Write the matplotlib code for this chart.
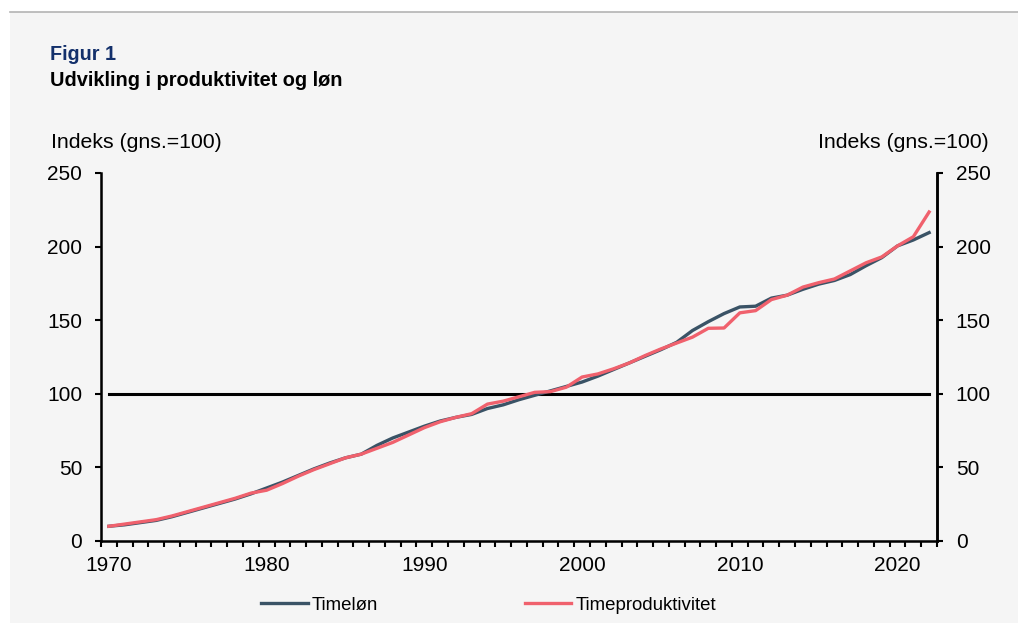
import numpy as np
import matplotlib
matplotlib.use("Agg")
import matplotlib.pyplot as plt
from matplotlib.patches import Rectangle
from matplotlib.lines import Line2D

plt.rcParams['font.family'] = ['Liberation Sans', 'DejaVu Sans']

years = list(range(1970, 2023))
timelon = [10, 11, 12.5, 14, 16.5, 19.5, 22.5, 25.5, 28.5, 32,
           36, 40, 44.5, 49, 53, 56.5, 59, 65, 70, 74,
           78, 81.5, 84, 86, 90, 92.5, 96, 99, 102, 105,
           108, 112, 116.5, 121, 125.5, 130, 135, 143, 149, 154.5,
           159, 159.5, 165, 167, 171, 174.5, 177, 181, 187, 192.5,
           200.5, 204.5, 209.5]
timeprod = [10, 11.5, 13, 14.5, 17, 20, 23, 26, 29, 32.5,
            34.5, 39, 44, 48.5, 52.5, 56.5, 59, 63, 67, 72,
            77, 81, 84, 86.5, 93, 95, 98, 101, 101.5, 104.5,
            111.4, 113.5, 117, 121, 126, 130.5, 134.5, 138.5, 144.5, 144.7,
            155, 156.5, 164, 167, 172.5, 175.5, 178, 183.5, 189, 193,
            200.5, 206.7, 223.5]
niveau = 100
yticks = [0, 50, 100, 150, 200, 250]

bg = '#f5f5f5'
col_lon = '#3a5366'
col_prod = '#f0616d'

fig = plt.figure(figsize=(10.18, 6.23), dpi=100)
fig.patch.set_facecolor('white')
fig.patches.append(Rectangle((10 / 1018, 0), 1 - 10 / 1018, 611 / 623,
                             transform=fig.transFigure, facecolor=bg,
                             edgecolor='none', zorder=-5))
fig.add_artist(Line2D([10 / 1018, 1], [611.5 / 623, 611.5 / 623],
                      color='#b4b4b4', lw=1.2, zorder=-4))

ax = fig.add_axes([101 / 1018, (623 - 541) / 623, 836 / 1018, 368 / 623])
ax.set_facecolor(bg)
x = np.arange(len(years))
ax.plot([x[0], x[-1]], [niveau, niveau], color='black', lw=2.2, zorder=2)
ax.plot(x, timelon, color=col_lon, lw=2.4, label='Timeløn', zorder=3)
ax.plot(x, timeprod, color=col_prod, lw=2.4, label='Timeproduktivitet', zorder=4)

ax.set_xlim(-0.5, len(years) - 0.5)
ax.set_ylim(0, 250)
ax.set_yticks(yticks)
ax.set_xticks([i for i, yr in enumerate(years) if yr % 10 == 0])
ax.set_xticklabels([str(yr) for yr in years if yr % 10 == 0])
ax.set_xticks(np.arange(-0.5, len(years)), minor=True)
ax.tick_params(axis='x', which='major', length=0, labelsize=15, pad=11)
ax.tick_params(axis='x', which='minor', length=4.5, width=1.5, direction='out')
ax.tick_params(axis='y', length=4.5, width=1.5, labelsize=15, pad=9)
for s in ['left', 'bottom', 'right']:
    ax.spines[s].set_linewidth(1.8)
ax.spines['top'].set_visible(False)

ax2 = ax.twinx()
ax2.set_ylim(0, 250)
ax2.set_yticks(yticks)
ax2.tick_params(axis='y', length=4.5, width=1.5, labelsize=15, pad=9)
ax2.spines['top'].set_visible(False)
ax2.spines['right'].set_linewidth(1.8)

fig.text(50 / 1018, 1 - 54 / 623, 'Figur 1', color='#13306b', fontsize=14.2,
         fontweight='bold', va='center')
fig.text(50 / 1018, 1 - 81 / 623, 'Udvikling i produktivitet og løn',
         fontsize=14.4, fontweight='bold', va='center')
fig.text(51 / 1018, 1 - 142 / 623, 'Indeks (gns.=100)', fontsize=15.3, va='center')
fig.text(989 / 1018, 1 - 142 / 623, 'Indeks (gns.=100)', fontsize=15.3,
         va='center', ha='right')

fig.legend(handles=ax.get_lines()[1:], loc='center', ncol=2,
           bbox_to_anchor=(488.5 / 1018, 1 - 605 / 623), frameon=False,
           fontsize=13.4, handlelength=2.5, handletextpad=0.2,
           columnspacing=7.9)

fig.savefig('out.png', dpi=100, facecolor=fig.get_facecolor())
